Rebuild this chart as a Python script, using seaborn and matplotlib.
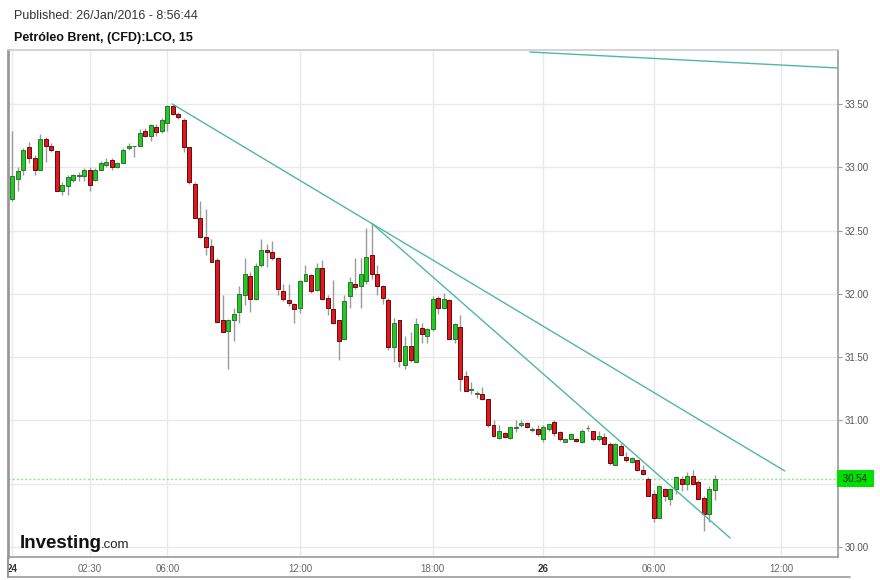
import numpy as np
import pandas as pd
import matplotlib
matplotlib.use("Agg")
import matplotlib.pyplot as plt
import matplotlib.transforms as mtransforms
from matplotlib.lines import Line2D
import seaborn as sns

# 15-minute candles, Brent CFD (LCO)
opens = [32.75, 32.91, 32.98, 33.16, 33.07, 32.98, 33.22, 33.17, 33.13, 32.81,
         32.85, 32.90, 32.93, 32.93, 32.98, 32.90, 32.98, 33.02, 33.06, 33.00,
         33.03, 33.15, 33.165, 33.17, 33.29, 33.25, 33.32, 33.29, 33.35, 33.48,
         33.42, 33.37, 33.16, 32.87, 32.60, 32.45, 32.38, 32.27, 31.79, 31.71,
         31.79, 31.86, 31.99, 32.14, 31.96, 32.23, 32.35, 32.33, 32.28, 32.02,
         31.95, 31.92, 31.89, 32.10, 32.15, 32.03, 32.20, 31.97, 31.88, 31.79,
         31.64, 31.98, 32.08, 32.06, 32.10, 32.31, 32.16, 32.06, 31.95, 31.58,
         31.79, 31.44, 31.59, 31.46, 31.73, 31.67, 31.72, 31.97, 31.89, 31.95,
         31.64, 31.74, 31.35, 31.24, 31.208, 31.21, 31.17, 30.96, 30.86, 30.90,
         30.86, 30.94, 30.96, 30.98, 30.928, 30.93, 30.85, 30.93, 30.99, 30.91,
         30.83, 30.85, 30.85, 30.83, 30.937, 30.92, 30.85, 30.87, 30.81, 30.65,
         30.80, 30.71, 30.67, 30.69, 30.61, 30.54, 30.42, 30.23, 30.46, 30.38,
         30.46, 30.54, 30.50, 30.56, 30.51, 30.39, 30.26, 30.45]
highs = [33.29, 33.00, 33.15, 33.20, 33.10, 33.26, 33.24, 33.19, 33.13, 32.88,
         32.94, 32.95, 32.96, 32.99, 33.00, 32.99, 33.05, 33.07, 33.07, 33.04,
         33.15, 33.19, 33.17, 33.30, 33.31, 33.34, 33.34, 33.39, 33.49, 33.50,
         33.44, 33.39, 33.16, 32.88, 32.73, 32.67, 32.43, 32.28, 31.99, 31.80,
         31.89, 32.06, 32.28, 32.17, 32.24, 32.43, 32.39, 32.42, 32.29, 32.08,
         32.08, 31.93, 32.11, 32.23, 32.16, 32.24, 32.27, 31.99, 32.11, 31.79,
         31.99, 32.13, 32.28, 32.28, 32.52, 32.56, 32.23, 32.07, 31.97, 31.81,
         31.79, 31.67, 31.70, 31.81, 31.77, 31.73, 31.98, 31.98, 32.01, 31.96,
         31.77, 31.83, 31.39, 31.30, 31.23, 31.26, 31.17, 31.00, 30.96, 30.91,
         30.95, 31.00, 31.00, 30.99, 30.95, 30.96, 30.96, 30.98, 31.00, 30.92,
         30.86, 30.90, 30.86, 30.93, 30.96, 30.92, 30.92, 30.90, 30.83, 30.82,
         30.82, 30.75, 30.71, 30.69, 30.65, 30.55, 30.45, 30.49, 30.47, 30.47,
         30.56, 30.56, 30.59, 30.61, 30.53, 30.40, 30.48, 30.57]
lows = [32.73, 32.81, 32.94, 33.03, 32.94, 32.98, 33.04, 33.12, 32.81, 32.78,
        32.78, 32.88, 32.89, 32.89, 32.81, 32.89, 32.98, 33.00, 32.98, 32.99,
        33.03, 33.14, 33.08, 33.17, 33.24, 33.21, 33.25, 33.27, 33.29, 33.41,
        33.38, 33.12, 32.87, 32.60, 32.44, 32.31, 32.25, 31.77, 31.70, 31.41,
        31.63, 31.77, 31.91, 31.86, 31.95, 32.21, 32.21, 32.27, 31.99, 31.94,
        31.90, 31.77, 31.85, 32.10, 32.01, 32.02, 31.95, 31.83, 31.76, 31.48,
        31.64, 31.89, 32.04, 31.89, 32.08, 32.12, 31.99, 31.92, 31.56, 31.46,
        31.42, 31.41, 31.46, 31.46, 31.61, 31.61, 31.71, 31.84, 31.88, 31.64,
        31.61, 31.23, 31.23, 31.21, 31.18, 31.16, 30.95, 30.87, 30.85, 30.86,
        30.85, 30.91, 30.95, 30.94, 30.91, 30.88, 30.83, 30.92, 30.88, 30.84,
        30.83, 30.85, 30.83, 30.82, 30.92, 30.84, 30.84, 30.81, 30.65, 30.65,
        30.73, 30.67, 30.66, 30.60, 30.57, 30.40, 30.20, 30.23, 30.36, 30.33,
        30.42, 30.44, 30.45, 30.49, 30.37, 30.13, 30.20, 30.37]
closes = [32.93, 32.97, 33.14, 33.07, 32.98, 33.22, 33.17, 33.14, 32.81, 32.86,
          32.92, 32.94, 32.94, 32.98, 32.86, 32.98, 33.03, 33.04, 33.00, 33.03,
          33.14, 33.17, 33.168, 33.27, 33.25, 33.33, 33.28, 33.37, 33.48, 33.42,
          33.40, 33.16, 32.88, 32.60, 32.45, 32.37, 32.25, 31.78, 31.70, 31.79,
          31.84, 32.00, 32.16, 31.96, 32.22, 32.35, 32.33, 32.28, 32.04, 31.96,
          31.93, 31.88, 32.10, 32.16, 32.02, 32.20, 31.96, 31.89, 31.77, 31.63,
          31.94, 32.09, 32.05, 32.16, 32.29, 32.16, 32.06, 31.97, 31.58, 31.77,
          31.47, 31.59, 31.48, 31.76, 31.68, 31.72, 31.96, 31.89, 31.96, 31.64,
          31.76, 31.33, 31.23, 31.241, 31.21, 31.17, 30.96, 30.88, 30.92, 30.87,
          30.95, 30.95, 30.98, 30.95, 30.932, 30.89, 30.95, 30.97, 30.90, 30.85,
          30.85, 30.89, 30.84, 30.92, 30.938, 30.85, 30.88, 30.81, 30.66, 30.81,
          30.73, 30.69, 30.70, 30.61, 30.58, 30.40, 30.23, 30.48, 30.40, 30.46,
          30.55, 30.50, 30.56, 30.50, 30.38, 30.26, 30.46, 30.54]

# x-axis labels (candle index -> label)
tick_pos = [0, 14, 28, 52, 76, 96, 116, 139]
tick_labels = ["24", "02:30", "06:00", "12:00", "18:00", "26", "06:00", "12:00"]
day_labels = ["24", "26"]

price_ticks = [30.0, 30.5, 31.0, 31.5, 32.0, 32.5, 33.0, 33.5]
last_price = 30.54

# drawn trend lines (candle index, price)
trend_id = ["a", "a", "b", "b", "c", "c"]
trend_x = [28.9, 139.7, 65.0, 129.8, 93.6, 149.3]
trend_y = [33.50, 30.60, 32.556, 30.071, 33.91, 33.784]

sns.set_style("white")
plt.rcParams["font.family"] = ["Liberation Sans", "DejaVu Sans"]

fig = plt.figure(figsize=(8.8, 5.8), dpi=100)
ax = fig.add_axes([8 / 880, 23 / 580, 830 / 880, 507 / 580])

df = pd.DataFrame({"open": opens, "high": highs, "low": lows, "close": closes})
df["idx"] = np.arange(len(df))
up = df["close"] >= df["open"]
body_bottom = df[["open", "close"]].min(axis=1)
body_h = (df["close"] - df["open"]).abs().clip(lower=0.006)

ax.vlines(df["idx"], df["low"], df["high"], color="#9a9a9a", linewidth=1, zorder=2)
ax.bar(df["idx"], body_h, bottom=body_bottom, width=0.72,
       color=np.where(up, "#1bd01b", "#e8131b"),
       edgecolor=np.where(up, "#3a6a3a", "#5a1010"), linewidth=0.7, zorder=3)

trend = pd.DataFrame({"line": trend_id, "x": trend_x, "y": trend_y})
sns.lineplot(data=trend, x="x", y="y", units="line", estimator=None,
             color="#4fb8a2", linewidth=1.0, ax=ax, zorder=4)

ax.axhline(last_price, color="#8ee88e", linestyle=(0, (1.5, 1.5)), linewidth=1, zorder=1)

ax.set_xlim(-0.8, 149.3)
ax.set_ylim(29.921, 33.926)
ax.set_xlabel("")
ax.set_ylabel("")

# the 30.50 label sits under the last-price tag
ax.set_yticks(price_ticks)
ax.set_yticklabels(["" if abs(p - last_price) < 0.1 else f"{p:.2f}" for p in price_ticks])
ax.yaxis.tick_right()
ax.tick_params(axis="y", length=3, width=0.8, color="#999999", pad=2,
               labelsize=7, labelcolor="#555555")
ax.set_xticks(tick_pos)
ax.set_xticklabels(tick_labels)
ax.tick_params(axis="x", length=0, pad=5, labelsize=7, labelcolor="#666666")
for t in ax.get_xticklabels():
    if t.get_text() in day_labels:
        t.set_fontweight("bold")
        t.set_color("#333333")

ax.grid(True, color="#e9e9e9", linewidth=1)
ax.set_axisbelow(True)
for side in ["left", "right", "bottom", "top"]:
    ax.spines[side].set_color("#999999")
    ax.spines[side].set_linewidth(1.2)
ax.spines["left"].set_linewidth(2)
ax.spines["top"].set_color("#cccccc")

# last price tag on the right axis
trans = mtransforms.blended_transform_factory(ax.transAxes, ax.transData)
ax.text(1.003, last_price, f" {last_price:.2f} ", transform=trans, ha="left", va="center",
        fontsize=7, color="#222222", clip_on=False, zorder=6,
        bbox=dict(boxstyle="square,pad=0.35", fc="#00e000", ec="none"))

# outer frame continuing below the axis
fig.add_artist(Line2D([7.5 / 880, 7.5 / 880], [1 - 557 / 580, 1 - 577 / 580],
                      color="#999999", linewidth=1.5, transform=fig.transFigure))
fig.add_artist(Line2D([7.5 / 880, 850 / 880], [1 - 577 / 580, 1 - 577 / 580],
                      color="#999999", linewidth=1.2, transform=fig.transFigure))

fig.text(14 / 880, 1 - 16 / 580, "Published: 26/Jan/2016 - 8:56:44",
         fontsize=9, color="#333333", va="center")
fig.text(14 / 880, 1 - 38 / 580, "Petróleo Brent, (CFD):LCO, 15",
         fontsize=9, fontweight="bold", color="#111111", va="center")

# watermark logo
fig.text(20 / 880, 1 - 548 / 580, "Investing", fontsize=13.5, fontweight="bold",
         color="#111111", va="baseline")
fig.text(100.5 / 880, 1 - 548 / 580, ".com", fontsize=9.5, color="#222222", va="baseline")

fig.savefig("out.png", dpi=100)
